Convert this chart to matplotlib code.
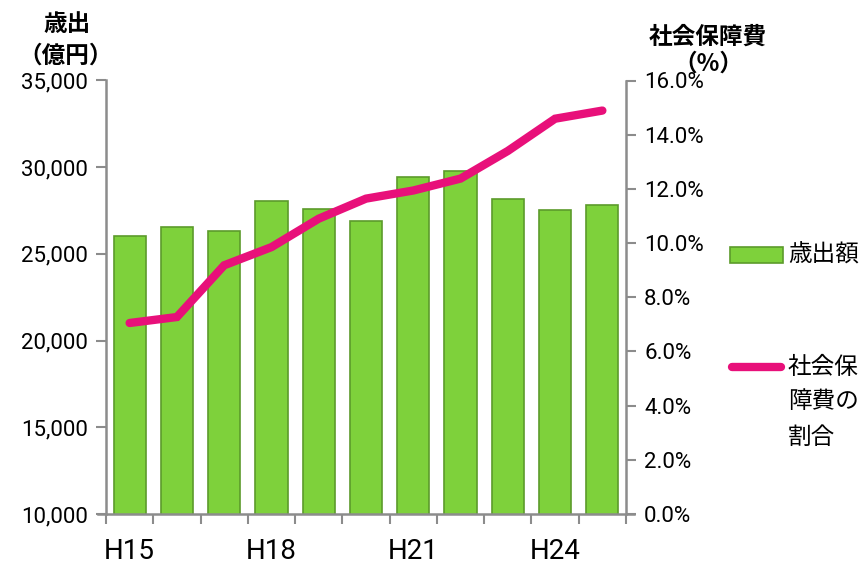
import matplotlib
matplotlib.use("Agg")
import matplotlib.pyplot as plt
from matplotlib.lines import Line2D
from matplotlib.patches import Rectangle
from matplotlib.ticker import FuncFormatter, FixedLocator

plt.rcParams["font.family"] = ["Roboto", "Noto Sans CJK JP", "DejaVu Sans"]

# --- data ---
years = ["H15", "H16", "H17", "H18", "H19", "H20", "H21", "H22", "H23", "H24", "H25"]
spending = [26030, 26530, 26310, 28040, 27610, 26880, 29430, 29780, 28190, 27510, 27800]
social_share = [7.05, 7.27, 9.18, 9.85, 10.9, 11.64, 11.94, 12.38, 13.4, 14.59, 14.89]
shown_labels = ["H15", "H18", "H21", "H24"]

BAR_FACE = "#7ED13B"
BAR_EDGE = "#5C9B2B"
LINE_COL = "#E8107A"
AXIS_COL = "#8C8C8C"
JP = ["Noto Sans CJK JP", "DejaVu Sans"]

fig = plt.figure(figsize=(8.63, 5.67), dpi=100)
ax = fig.add_axes([106 / 863, 1 - 514 / 567, 520 / 863, (514 - 80.5) / 567])
ax2 = ax.twinx()

x = list(range(len(years)))
ax.bar(x, spending, width=0.68, color=BAR_FACE, edgecolor=BAR_EDGE,
       linewidth=1.2, zorder=2)
ax2.plot(x, social_share, color=LINE_COL, linewidth=6,
         solid_capstyle="round", solid_joinstyle="miter", zorder=3)

ax.set_xlim(-0.5, len(years) - 0.5)
ax.set_ylim(10000, 35000)
ax2.set_ylim(0, 16)
ax.set_yticks(range(10000, 35001, 5000))
ax2.set_yticks(range(0, 17, 2))
ax.yaxis.set_major_formatter(FuncFormatter(lambda v, p: f"{int(v):,}"))
ax2.yaxis.set_major_formatter(FuncFormatter(lambda v, p: f"{v:.1f}%"))

# x: category boundaries get tick marks, only every third year is labelled
ax.xaxis.set_major_locator(FixedLocator([years.index(s) for s in shown_labels]))
ax.set_xticklabels(shown_labels)
ax.xaxis.set_minor_locator(FixedLocator([i - 0.5 for i in range(len(years) + 1)]))
ax.tick_params(axis="x", which="major", length=0, pad=17, labelsize=20)
ax.tick_params(axis="x", which="minor", length=7, width=1.5, color=AXIS_COL,
               direction="out")
ax.tick_params(axis="y", length=7, width=1.5, color=AXIS_COL, labelsize=16, pad=6)
ax2.tick_params(axis="y", length=7, width=1.5, color=AXIS_COL, labelsize=16, pad=6)

for a in (ax, ax2):
    a.spines["top"].set_visible(False)
    for side in ("left", "right", "bottom"):
        a.spines[side].set_color(AXIS_COL)
        a.spines[side].set_linewidth(1.8)
ax.spines["right"].set_visible(False)
ax2.spines["left"].set_visible(False)
ax2.spines["bottom"].set_visible(False)
# the baseline runs a little past both vertical axes
ax.spines["bottom"].set_bounds(-0.67, len(years) - 0.33)
ax.set_zorder(ax2.get_zorder() - 1)
ax2.patch.set_visible(False)

# axis titles
fig.text(67 / 863, 1 - 24 / 567, "歳出", family=JP, fontsize=17,
         fontweight="bold", ha="center", va="center")
fig.text(66 / 863, 1 - 56 / 567, "（億円）", family=JP, fontsize=17,
         fontweight="bold", ha="center", va="center")
fig.text(708 / 863, 1 - 37 / 567, "社会保障費", family=JP, fontsize=17,
         fontweight="bold", ha="center", va="center")
fig.text(708 / 863, 1 - 64 / 567, "（%）", family=JP, fontsize=17,
         fontweight="bold", ha="center", va="center")

# legend drawn by hand so the line key sits on the first label line
fig.add_artist(Rectangle((730 / 863, 1 - 263 / 567), 53 / 863, 16 / 567,
                         transform=fig.transFigure, facecolor=BAR_FACE,
                         edgecolor=BAR_EDGE, linewidth=1.2))
fig.text(788 / 863, 1 - 255 / 567, "歳出額", family=JP, fontsize=17,
         ha="left", va="center")
fig.add_artist(Line2D([732 / 863, 781 / 863], [1 - 367 / 567] * 2,
                      transform=fig.transFigure, color=LINE_COL, linewidth=6,
                      solid_capstyle="round"))
for i, part in enumerate(["社会保", "障費の", "割合"]):
    fig.text(788 / 863, 1 - (367 + 35 * i) / 567, part, family=JP, fontsize=17,
             ha="left", va="center")

fig.savefig("out.png", dpi=100)
